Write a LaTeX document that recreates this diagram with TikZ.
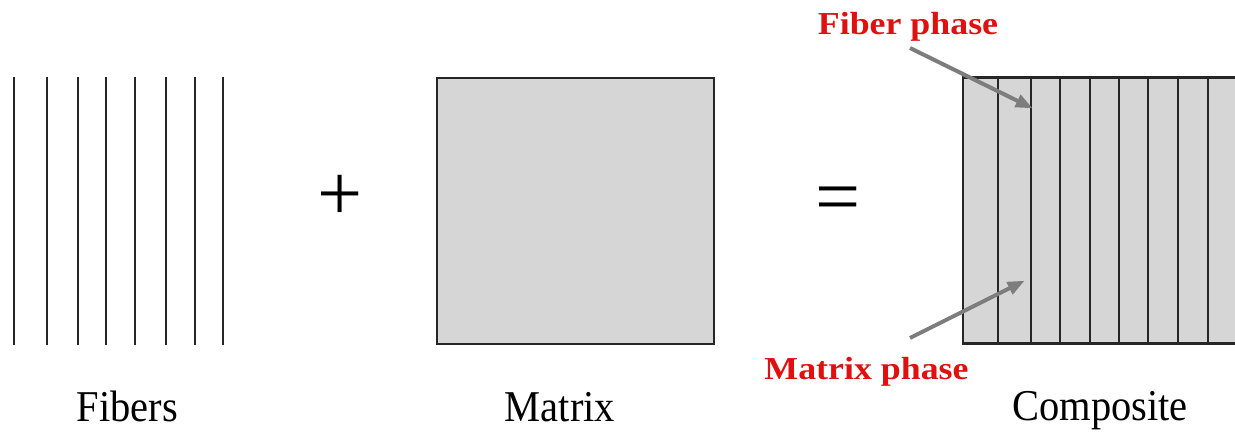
\documentclass[tikz,border=0pt]{standalone}
\usepackage{fontspec}
\setmainfont{Liberation Serif}
\usetikzlibrary{arrows.meta}
\definecolor{matfill}{RGB}{214,214,214}
\definecolor{phasered}{RGB}{222,16,16}
\definecolor{arrowgray}{RGB}{125,125,125}
\tikzset{
  fiberline/.style={line width=2pt, draw=black!85},
  phasebox/.style={draw=black!85, line width=2.2pt, fill=matfill, minimum width=277pt, minimum height=266pt, inner sep=0pt, outer sep=0pt},
  caption/.style={anchor=base, inner sep=0pt, font=\fontsize{44}{44}\selectfont, xscale=0.92},
  phaselabel/.style={anchor=base, inner sep=0pt, text=phasered, font=\fontsize{32}{32}\selectfont\bfseries, xscale=1.12},
  opsign/.style={anchor=base, inner sep=0pt, font=\fontsize{80}{80}\selectfont},
  pointer/.style={draw=arrowgray, line width=4pt, -{Triangle[length=17pt,width=13pt]}, shorten >=-3pt}
}
\begin{document}
\begin{tikzpicture}[x=1pt,y=-1pt]
\useasboundingbox (0,0) rectangle (1235,432);
\clip (0,0) rectangle (1235,432);
% fibers
\foreach \x [count=\i] in {14,47,78,106,135,166,195,223} {
  \coordinate (ft\i) at (\x,77);
  \coordinate (fb\i) at (\x,345);
  \draw[fiberline] (ft\i) -- (fb\i);
}
% matrix
\node[phasebox] (matrix) at (575.5,211) {};
% composite
\node[phasebox] (comp) at (1101.5,210.5) {};
\foreach \x [count=\i] in {998,1031,1060,1090,1119,1148,1178,1208} {
  \draw[fiberline] (\x,0 |- comp.north) -- (\x,0 |- comp.south);
}
% signs
\node[opsign] (plus) at (340,220) {+};
\node[opsign] (eq) at (838,223) {=};
% captions
\node[caption] (cfib) at (127.5,421) {Fibers};
\node[caption] (cmat) at (560,421) {Matrix};
\node[caption] (ccomp) at (1100,420) {Composite};
% phase labels
\node[phaselabel] (fphase) at (908,34) {Fiber phase};
\node[phaselabel] (mphase) at (866.5,379) {Matrix phase};
% pointers
\coordinate (fs) at (910,48);
\coordinate (ftip) at (1030,107);
\coordinate (ms) at (910,338);
\coordinate (mtip) at (1022,282);
\draw[pointer] (fs) -- (ftip);
\draw[pointer] (ms) -- (mtip);
\end{tikzpicture}
\end{document}
